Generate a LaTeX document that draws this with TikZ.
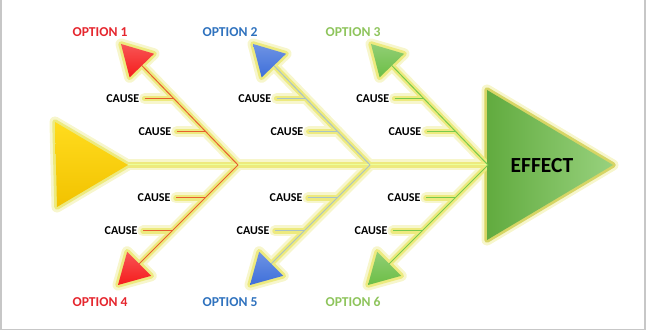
\documentclass[tikz,border=0pt]{standalone}
\usepackage{fontspec}
\setmainfont{Carlito}
\usetikzlibrary{calc}
\definecolor{fbred}{HTML}{F51C1C}
\definecolor{fbblue}{HTML}{3E6FDA}
\definecolor{fbgreen}{HTML}{6CBE46}
\definecolor{fbredtxt}{HTML}{E5262E}
\definecolor{fbbluetxt}{HTML}{2F72BE}
\definecolor{fbgreentxt}{HTML}{8EC45C}
\definecolor{fbredln}{HTML}{E8602E}
\definecolor{fbblueln}{HTML}{A9C3C6}
\definecolor{fbgreenln}{HTML}{78CA4C}
\definecolor{fbhalo}{HTML}{F7F6CC}
\definecolor{fbglowc}{HTML}{EDEA7E}
\definecolor{fbgold}{HTML}{FFDC1E}
\definecolor{fbgolddk}{HTML}{F2C200}
\pgfdeclarelayer{halo}
\pgfdeclarelayer{glow}
\pgfsetlayers{halo,glow,main}
\tikzset{
  fbhalo/.style ={draw=fbhalo, line width=11pt, line join=round, line cap=round},
  fbglow/.style ={draw=fbglowc, line width=5.5pt, line join=round, line cap=round},
  fbline/.style ={line width=1pt},
  fbcause/.style={font=\bfseries\fontsize{12}{14}\selectfont, text=black,
                  inner sep=0.5pt, outer sep=5pt, anchor=east},
  fbopt/.style  ={font=\bfseries\fontsize{13.6}{16}\selectfont, inner sep=1pt},
  fbeffect/.style={font=\bfseries\fontsize{21.5}{24}\selectfont, text=black, inner sep=1pt},
}

\begin{document}
\begin{tikzpicture}[x=1pt,y=-1pt]
\useasboundingbox (0,0) rectangle (646,331);
\draw[black!22, line width=1.2pt] (1,0) -- (1,329.5) -- (645,329.5) -- (645,0);

% tail and head of the spine
\coordinate (tail) at (128,165);
\coordinate (head) at (487,165);
\begin{pgfonlayer}{halo}
  \draw[fbhalo] (55,122) -- (tail) -- (57,207) -- cycle;
  \draw[fbhalo] (head) -- (487,90) -- (613,165) -- (487,240) -- cycle;
  \draw[fbhalo] (tail) -- (head);
\end{pgfonlayer}
\begin{pgfonlayer}{glow}
  \draw[fbglow] (55,122) -- (tail) -- (57,207) -- cycle;
  \draw[fbglow, draw=fbglowc!80!olive] (head) -- (487,90) -- (613,165) -- (487,240) -- cycle;
  \draw[fbglow] (tail) -- (head);
\end{pgfonlayer}
\shade[top color=fbgold, bottom color=fbgolddk] (55,122) -- (tail) -- (57,207) -- cycle;
\shade[left color=fbgreen!90!black, right color=fbgreen!70!white] (487,90) -- (613,165) -- (487,240) -- cycle;
\draw[fbline, draw=green!20!yellow!40] (tail) -- (head);
\node[fbeffect] (effect) at (542,166) {EFFECT};

% bones: name/junction/tip/label/colours
\foreach \b/\jx/\tx/\ty/\ox/\oy/\hc/\lc in {
    1/238/121/44/100/32/fbred/fbredln,   4/238/118/285/100/302/fbred/fbredln,
    2/370/253/44/230/32/fbblue/fbblueln, 5/370/250/285/230/302/fbblue/fbblueln,
    3/488/371/44/353/32/fbgreen/fbgreenln, 6/488/368/285/353/302/fbgreen/fbgreenln} {
  \coordinate (j\b) at (\jx,165);
  \coordinate (t\b) at (\tx,\ty);
  \coordinate (m\b) at ($(t\b)!30pt!(j\b)$);
  \coordinate (u\b) at ($(m\b)!17pt!90:(t\b)$);
  \coordinate (v\b) at ($(m\b)!17pt!-90:(t\b)$);
  \coordinate (p\b) at ($(j\b)!0.275!(t\b)$);
  \coordinate (q\b) at ($(j\b)!0.55!(t\b)$);
  \node[fbcause] (cp\b) at ($(p\b)+(-29,0)$) {CAUSE};
  \node[fbcause] (cq\b) at ($(q\b)+(-29,0)$) {CAUSE};
  \node[fbopt, text=\hc txt] (opt\b) at (\ox,\oy) {OPTION \b};
  \begin{pgfonlayer}{halo}
    \draw[fbhalo] (j\b) -- (m\b);
    \draw[fbhalo] (cp\b.east) -- (p\b);
    \draw[fbhalo] (cq\b.east) -- (q\b);
    \draw[fbhalo] (t\b) -- (u\b) -- (v\b) -- cycle;
  \end{pgfonlayer}
  \begin{pgfonlayer}{glow}
    \draw[fbglow] (j\b) -- (m\b);
    \draw[fbglow] (cp\b.east) -- (p\b);
    \draw[fbglow] (cq\b.east) -- (q\b);
    \draw[fbglow] (t\b) -- (u\b) -- (v\b) -- cycle;
  \end{pgfonlayer}
  \draw[fbline, draw=\lc] (j\b) -- (m\b);
  \draw[fbline, draw=\lc] (cp\b.east) -- (p\b);
  \draw[fbline, draw=\lc] (cq\b.east) -- (q\b);
  \shade[top color=\hc!75!white, bottom color=\hc] (t\b) -- (u\b) -- (v\b) -- cycle;
}
\end{tikzpicture}
\end{document}
